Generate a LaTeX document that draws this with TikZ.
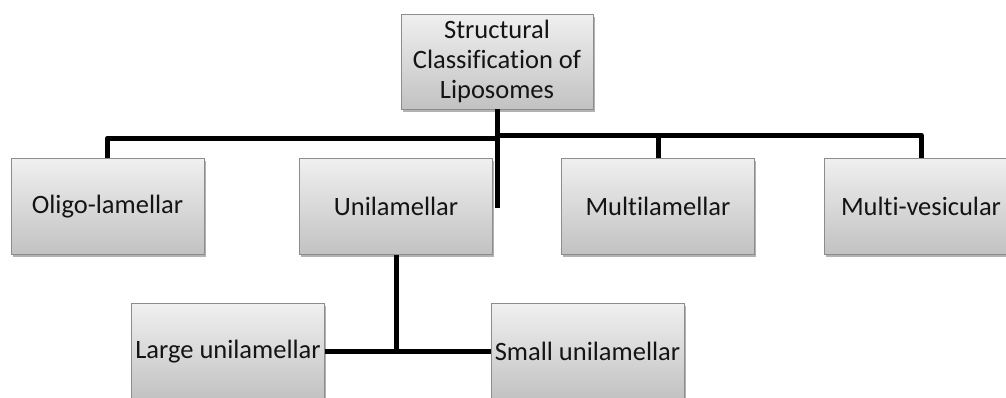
\documentclass[tikz,border=0pt]{standalone}
\usepackage{fontspec}
\setmainfont{Carlito}[Ligatures=NoCommon]
\usetikzlibrary{shadows}
\begin{document}
\begin{tikzpicture}[x=1pt,y=-1pt,
  box/.style={draw=black!45, line width=0.8pt, top color=black!6, bottom color=black!24,
    minimum width=193pt, minimum height=96pt, inner sep=0pt, align=center,
    text=black!92, font=\fontsize{26.5}{30}\selectfont,
    drop shadow={shadow xshift=1.5pt, shadow yshift=-2.5pt, fill=black, opacity=0.3}},
  conn/.style={line width=5pt, line join=round, draw=black}]
\useasboundingbox (0,0) rectangle (1006,397);
\clip (0,0) rectangle (1006,397);
\node[box, minimum width=192pt, minimum height=95pt] (top) at (497,61.5) {Structural\\Classification of\\Liposomes};
\node[box] (oligo) at (107.5,206.5) {Oligo-lamellar};
\node[box] (uni) at (396,206.5) {Unilamellar};
\node[box] (multi) at (658,206) {Multilamellar};
\node[box] (vesic) at (921,206) {Multi-vesicular};
\node[box] (large) at (228,351.5) {Large unilamellar};
\node[box] (small) at (587.5,351.5) {Small unilamellar};
\coordinate (jL) at (497,138);
\coordinate (jR) at (497,135);
\coordinate (jU) at (497,208);
\draw[conn] (top.south) -- (jU);
\draw[conn] (jL) -| (oligo.north);
\draw[conn] (jR) -| (vesic.north);
\draw[conn] (multi.north |- jR) -- (multi.north);
\draw[conn] (uni.south) -- (uni.south |- large.east);
\draw[conn] (large.east) -- (small.west);
\end{tikzpicture}
\end{document}
